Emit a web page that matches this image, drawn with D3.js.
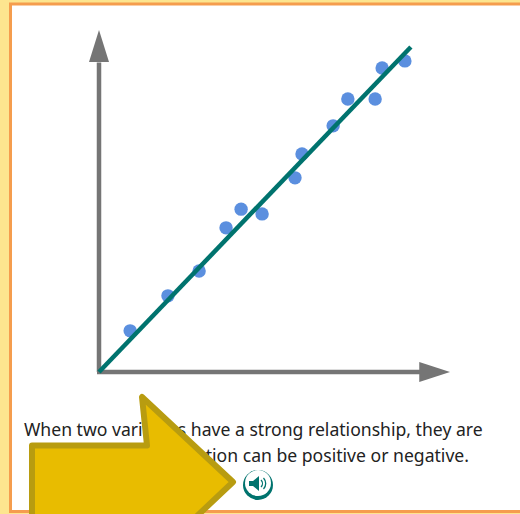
<!DOCTYPE html>
<html><head><meta charset="utf-8">
<script src="https://cdn.jsdelivr.net/npm/d3@7"></script>
<style>html,body{margin:0;padding:0;background:#fff;overflow:hidden}svg{display:block}</style>
</head><body><div id="c"></div>
<script>
const xValues=[8.9,19.7,28.6,36.3,40.6,46.6,56,58,66.9,71.1,78.9,80.9,87.4];
const yValues=[12.1,22.4,29.7,42.4,47.9,46.5,57.1,64.1,72.4,80.3,80.3,89.4,91.5];
const trendX=[0,89.1];
const trendY=[0,95.6];
const textLines=["When two variables have a strong relationship, they are","correlated. Correlation can be positive or negative."];

const svg=d3.select("#c").append("svg").attr("width",520).attr("height",514);
svg.append("rect").attr("width",520).attr("height",514).attr("fill","#fde58f");
svg.append("rect").attr("x",10.5).attr("y",4).attr("width",530).attr("height",507.5)
  .attr("fill","#fff").attr("stroke","#f59d4e").attr("stroke-width",3);

const x=d3.scaleLinear().domain([0,100]).range([99,449]);
const y=d3.scaleLinear().domain([0,100]).range([372,32]);
const axisCol="#757575";
const ax=svg.append("g");
ax.append("line").attr("x1",x(0)-2).attr("x2",x(92)).attr("y1",y(0)).attr("y2",y(0)).attr("stroke",axisCol).attr("stroke-width",4.5);
ax.append("line").attr("x1",x(0)).attr("x2",x(0)).attr("y1",y(0)).attr("y2",y(91)).attr("stroke",axisCol).attr("stroke-width",4.5);
ax.append("path").attr("d",d3.line()([[x(100.3),y(0)],[x(91.5),y(0)-10],[x(91.5),y(0)+10]])+"Z").attr("fill",axisCol);
ax.append("path").attr("d",d3.line()([[x(0),y(100.6)],[x(0)-10,y(91.2)],[x(0)+10,y(91.2)]])+"Z").attr("fill",axisCol);

svg.append("g").selectAll("circle").data(xValues).join("circle")
  .attr("cx",d=>x(d)).attr("cy",(d,i)=>y(yValues[i])).attr("r",6.7).attr("fill","#5b8fdf");
svg.append("line").attr("x1",x(trendX[0])).attr("y1",y(trendY[0])).attr("x2",x(trendX[1])).attr("y2",y(trendY[1]))
  .attr("stroke","#00736e").attr("stroke-width",4.5);

svg.append("g").selectAll("text").data(textLines).join("text")
  .attr("x",(d,i)=>i?469:24).attr("text-anchor",(d,i)=>i?"end":"start").attr("y",(d,i)=>436+i*26).text(d=>d)
  .attr("font-family","'Noto Sans'").attr("font-size",17.6).attr("fill","#222");

const sp=svg.append("g").attr("transform","translate(258,484)");
sp.append("circle").attr("r",15).attr("cy",1).attr("fill","#00736e");
sp.append("circle").attr("r",13).attr("cy",-1).attr("fill","#fff");
sp.append("path").attr("d","M-9,-3H-5L1,-8V7L-5,2H-9Z").attr("fill","#00736e");
sp.append("path").attr("d","M3,-4A5,5 0 0 1 3,3M5.5,-6A8,8 0 0 1 5.5,5").attr("fill","none").attr("stroke","#00736e").attr("stroke-width",1.3);

svg.append("path").attr("d","M233,482L142,397L147,445.5L32,445.5V518H147L142,568Z")
  .attr("fill","#e8bc00").attr("stroke","#b89c10").attr("stroke-width",6).attr("stroke-linejoin","round");
</script></body></html>
